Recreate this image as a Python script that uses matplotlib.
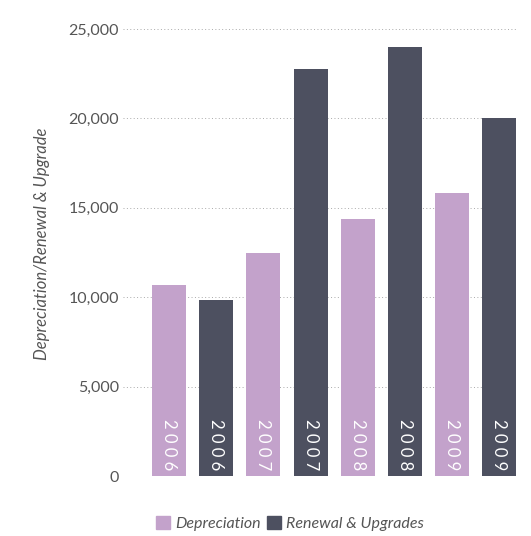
import matplotlib.pyplot as plt
from matplotlib.patches import Patch

# data
years = ["2006", "2006", "2007", "2007", "2008", "2008", "2009", "2009"]
series = ["Depreciation", "Renewal", "Depreciation", "Renewal",
          "Depreciation", "Renewal", "Depreciation", "Renewal"]
values = [10700, 9850, 12500, 22750, 14350, 24000, 15850, 20050]
yticks = [0, 5000, 10000, 15000, 20000, 25000]

purple = "#C3A2CB"
dark = "#4D5060"
grey = "#555555"
colors = [purple if s == "Depreciation" else dark for s in series]

plt.rcParams["font.family"] = ["Lato", "DejaVu Sans"]

fig = plt.figure(figsize=(5.31, 5.36), dpi=100)
ax = fig.add_axes([0.2316, 0.1119, 0.742, 0.834])

x = list(range(len(values)))
ax.bar(x, values, width=0.72, color=colors, zorder=2)

for xi, yr in zip(x, years):
    ax.text(xi, 330, " ".join(yr), rotation=-90, color="white",
            ha="center", va="bottom", fontsize=12, zorder=3)

ax.set_xlim(-0.98, 7.38)
ax.set_ylim(0, 25000)
ax.set_yticks(yticks)
ax.set_yticklabels([f"{v:,}" for v in yticks], color=grey, fontsize=11.5)
ax.set_xticks([])
ax.tick_params(axis="y", length=0, pad=3)
for s in ax.spines.values():
    s.set_visible(False)
ax.yaxis.grid(True, linestyle=(0, (1, 2.5)), color="#aaaaaa", linewidth=0.7, zorder=0)
ax.set_axisbelow(True)

ax.set_ylabel("Depreciation/Renewal & Upgrade", fontstyle="italic",
              color=grey, fontsize=12)
ax.yaxis.set_label_coords(-0.185, 0.52)

handles = [Patch(color=purple, label="Depreciation"),
           Patch(color=dark, label="Renewal & Upgrades")]
leg = fig.legend(handles=handles, loc="center", bbox_to_anchor=(0.546, 0.024),
                 ncol=2, frameon=False, handlelength=0.9, handleheight=0.9,
                 handletextpad=0.3, columnspacing=0.4,
                 prop={"style": "italic", "size": 11.5})
for t in leg.get_texts():
    t.set_color(grey)

fig.savefig("out.png", dpi=100)
